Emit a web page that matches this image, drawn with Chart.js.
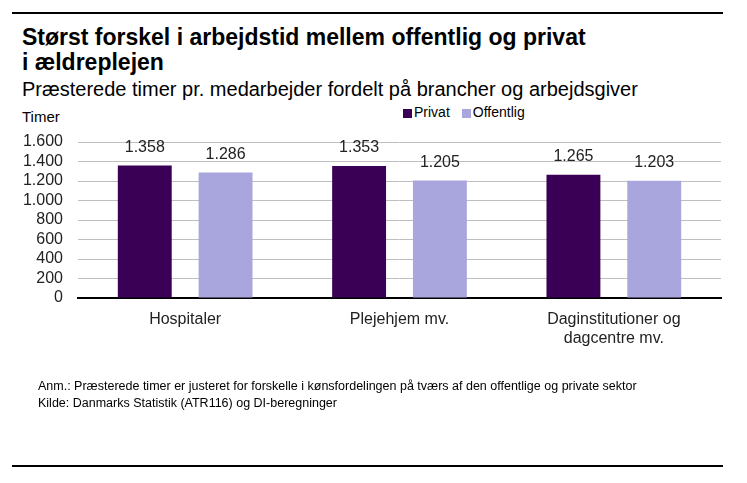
<!DOCTYPE html>
<html>
<head>
<meta charset="utf-8">
<script src="https://cdn.jsdelivr.net/npm/chart.js@4"></script>
<style>
  body { margin: 0; background: #fff; font-family: "Liberation Sans", Arial, sans-serif; }
  #wrap { position: relative; width: 747px; height: 483px; overflow: hidden; }
  #chart { position: absolute; left: 0; top: 0; }
  .rule { position: absolute; left: 12px; width: 711px; height: 0; border-top: 2px solid #000; }
  .txt { position: absolute; white-space: nowrap; color: #000; }
  #title { left: 22px; top: 25px; font-size: 23px; font-weight: bold; line-height: 25px; }
  #sub { left: 22px; top: 78px; font-size: 20px; }
  #unit { left: 22px; top: 108px; font-size: 15px; }
  #legend { left: 403px; top: 104px; font-size: 14px; }
  #legend span.sq { display: inline-block; width: 9px; height: 9px; margin-right: 2px; vertical-align: -1px; }
  #legend span.gap { display: inline-block; width: 12px; }
  #note { left: 38px; top: 378px; font-size: 12.5px; line-height: 17px; }
</style>
</head>
<body>
<div id="wrap">
  <div class="rule" style="top:12px"></div>
  <div class="txt" id="title">Størst forskel i arbejdstid mellem offentlig og privat<br>i ældreplejen</div>
  <div class="txt" id="sub">Præsterede timer pr. medarbejder fordelt på brancher og arbejdsgiver</div>
  <div class="txt" id="unit">Timer</div>
  <div class="txt" id="legend"><span class="sq" style="background:#3a0056"></span>Privat<span class="gap"></span><span class="sq" style="background:#a9a6de"></span>Offentlig</div>
  <canvas id="chart" width="747" height="483"></canvas>
  <div class="txt" id="note">Anm.: Præsterede timer er justeret for forskelle i kønsfordelingen på tværs af den offentlige og private sektor<br>Kilde: Danmarks Statistik (ATR116) og DI-beregninger</div>
  <div class="rule" style="top:465px"></div>
</div>
<script>
var categories = [["Hospitaler"], ["Plejehjem mv."], ["Daginstitutioner og", "dagcentre mv."]];
var privat = [1358, 1353, 1265];
var offentlig = [1286, 1205, 1203];
var yTicks = [0, 200, 400, 600, 800, 1000, 1200, 1400, 1600];

function fmt(v) {
    return String(v).replace(/\B(?=(\d{3})+(?!\d))/g, '.');
}

var valueLabels = {
    id: 'valueLabels',
    afterDatasetsDraw: function (chart) {
        var ctx = chart.ctx;
        ctx.save();
        ctx.font = '16px "Liberation Sans", Arial, sans-serif';
        ctx.fillStyle = '#222';
        ctx.textAlign = 'center';
        ctx.textBaseline = 'bottom';
        chart.data.datasets.forEach(function (ds, i) {
            chart.getDatasetMeta(i).data.forEach(function (bar, j) {
                ctx.fillText(fmt(ds.data[j]), bar.x, bar.y - 10);
            });
        });
        ctx.restore();
    }
};

var ctx = document.getElementById('chart').getContext('2d');

var chart = new Chart(ctx, {
    type: 'bar',
    data: {
        labels: categories,
        datasets: [{
            label: 'Privat',
            data: privat,
            backgroundColor: '#3a0056'
        }, {
            label: 'Offentlig',
            data: offentlig,
            backgroundColor: '#a9a6de'
        }]
    },
    options: {
        responsive: false,
        animation: false,
        devicePixelRatio: 1,
        layout: { padding: { left: 0, right: 26, top: 142, bottom: 0 } },
        plugins: { legend: { display: false }, tooltip: { enabled: false } },
        datasets: { bar: { categoryPercentage: 0.754, barPercentage: 0.667 } },
        scales: {
            x: {
                grid: { display: false, drawTicks: false },
                border: { color: '#000', width: 2 },
                ticks: {
                    color: '#222',
                    padding: 12,
                    font: { family: '"Liberation Sans", Arial, sans-serif', size: 16 },
                    maxRotation: 0
                },
                afterFit: function (s) { s.height = 185; }
            },
            y: {
                min: 0,
                max: 1600,
                afterBuildTicks: function (s) { s.ticks = yTicks.map(function (v) { return { value: v }; }); },
                grid: { color: '#bfbfbf', lineWidth: 1, drawTicks: false },
                border: { display: false },
                ticks: {
                    color: '#222',
                    padding: 15,
                    autoSkip: false,
                    font: { family: '"Liberation Sans", Arial, sans-serif', size: 16 },
                    callback: function (v) { return fmt(v); }
                },
                afterFit: function (s) { s.width = 78; }
            }
        }
    },
    plugins: [valueLabels]
});
</script>
</body>
</html>
